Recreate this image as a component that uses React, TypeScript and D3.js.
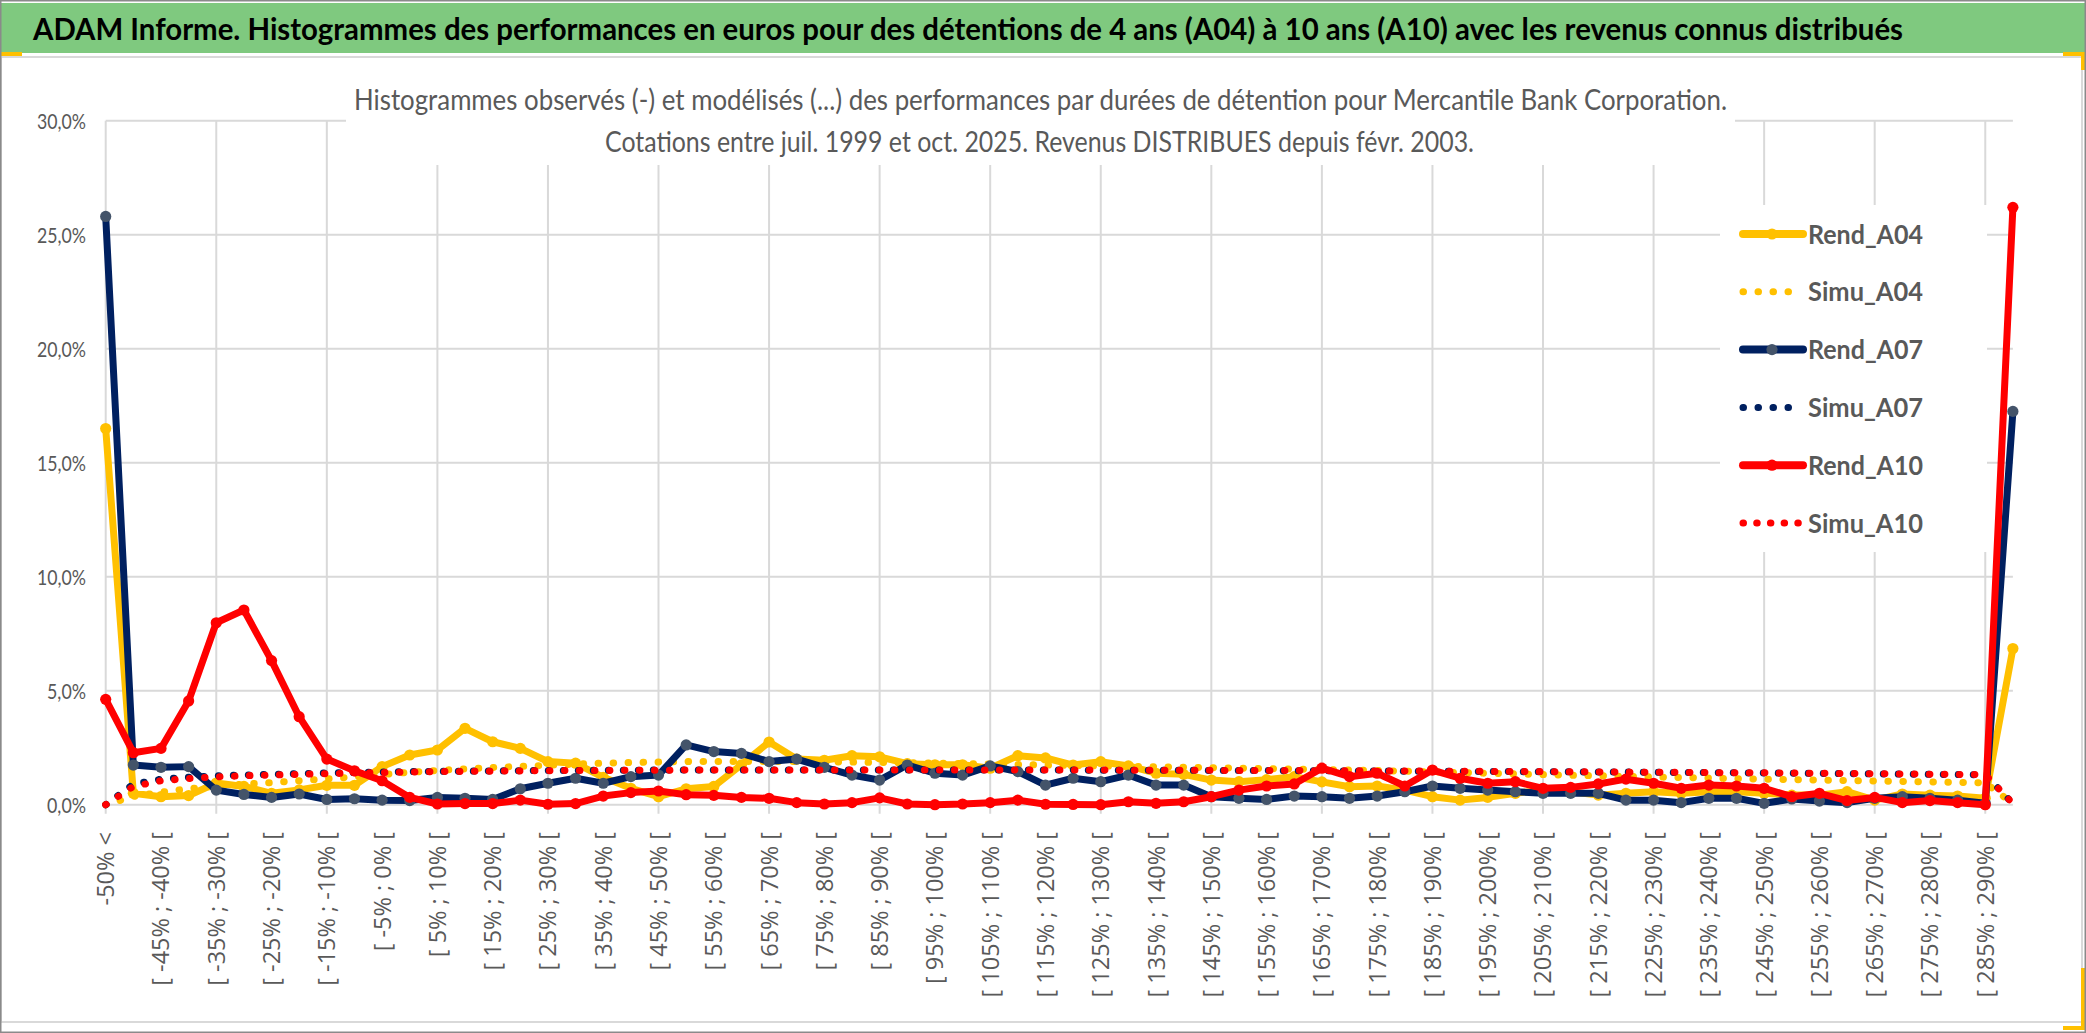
import React from 'react';
import * as d3 from 'd3';

// bins: "-50% <", [-50% ; -45% [ ... [285% ; 290% [, "> 290%"
const categories: string[] = [
  '-50% <',
  ...d3.range(1, 69).map((i) => {
    const lo = -50 + 5 * (i - 1);
    return `[ ${lo}% ; ${lo + 5}% [`;
  }),
  '> 290%',
];

const yTicks = [0, 5, 10, 15, 20, 25, 30];

const rendA04 = [
  16.5, 0.5, 0.35, 0.4, 0.95, 0.8, 0.5, 0.65, 0.85, 0.85,
  1.67, 2.18, 2.4, 3.35, 2.76, 2.47, 1.89, 1.82, 1.2, 0.72,
  0.35, 0.7, 0.8, 1.75, 2.75, 2.0, 1.95, 2.15, 2.1, 1.8,
  1.75, 1.75, 1.6, 2.15, 2.05, 1.74, 1.89, 1.7, 1.38, 1.33,
  1.08, 1.01, 1.1, 1.23, 1.0, 0.79, 0.82, 0.64, 0.35, 0.2,
  0.32, 0.5, 0.64, 0.57, 0.42, 0.5, 0.57, 0.5, 0.57, 0.57,
  0.5, 0.42, 0.42, 0.57, 0.2, 0.47, 0.42, 0.38, 0.28, 6.85,
];

const simuA04 = [
  0.0, 0.36, 0.55, 0.7, 0.82, 0.9, 0.97, 1.05, 1.13, 1.22,
  1.32, 1.42, 1.5, 1.57, 1.63, 1.68, 1.73, 1.78, 1.82, 1.85,
  1.87, 1.89, 1.9, 1.9, 1.9, 1.89, 1.88, 1.87, 1.85, 1.84,
  1.82, 1.8, 1.78, 1.76, 1.74, 1.72, 1.7, 1.68, 1.66, 1.64,
  1.62, 1.6, 1.58, 1.56, 1.54, 1.52, 1.5, 1.47, 1.44, 1.41,
  1.38, 1.35, 1.32, 1.29, 1.27, 1.24, 1.22, 1.19, 1.17, 1.14,
  1.12, 1.1, 1.08, 1.06, 1.04, 1.02, 1.0, 0.98, 0.96, 0.05,
];

const rendA07 = [
  25.8, 1.74, 1.64, 1.67, 0.64, 0.45, 0.32, 0.47, 0.23, 0.26,
  0.2, 0.18, 0.32, 0.28, 0.23, 0.7, 0.94, 1.16, 0.94, 1.23,
  1.3, 2.62, 2.33, 2.25, 1.89, 2.0, 1.64, 1.3, 1.08, 1.74,
  1.38, 1.3, 1.7, 1.45, 0.86, 1.16, 1.01, 1.3, 0.86, 0.86,
  0.35, 0.28, 0.23, 0.38, 0.35, 0.28, 0.38, 0.57, 0.82, 0.72,
  0.64, 0.57, 0.5, 0.5, 0.5, 0.2, 0.2, 0.09, 0.28, 0.28,
  0.06, 0.25, 0.16, 0.09, 0.28, 0.35, 0.28, 0.2, 0.06, 17.25,
];

const simuA07 = [
  0.0, 0.9, 1.12, 1.2, 1.27, 1.3, 1.33, 1.36, 1.39, 1.41,
  1.43, 1.45, 1.46, 1.47, 1.48, 1.49, 1.5, 1.5, 1.51, 1.51,
  1.52, 1.52, 1.52, 1.52, 1.52, 1.52, 1.52, 1.52, 1.52, 1.52,
  1.52, 1.52, 1.52, 1.52, 1.52, 1.52, 1.51, 1.51, 1.51, 1.51,
  1.5, 1.5, 1.5, 1.49, 1.49, 1.48, 1.48, 1.47, 1.47, 1.46,
  1.46, 1.45, 1.45, 1.44, 1.43, 1.43, 1.42, 1.41, 1.41, 1.4,
  1.39, 1.38, 1.37, 1.36, 1.35, 1.34, 1.33, 1.32, 1.31, 0.05,
];

const simuA10 = [
  0.0, 0.8, 1.05, 1.15, 1.22, 1.27, 1.3, 1.33, 1.36, 1.39,
  1.41, 1.43, 1.45, 1.46, 1.47, 1.48, 1.49, 1.5, 1.5, 1.51,
  1.51, 1.52, 1.52, 1.52, 1.52, 1.52, 1.52, 1.52, 1.52, 1.52,
  1.52, 1.52, 1.52, 1.52, 1.52, 1.52, 1.52, 1.51, 1.51, 1.51,
  1.51, 1.5, 1.5, 1.5, 1.49, 1.49, 1.48, 1.48, 1.47, 1.47,
  1.46, 1.46, 1.45, 1.44, 1.44, 1.43, 1.42, 1.42, 1.41, 1.4,
  1.4, 1.39, 1.38, 1.37, 1.36, 1.35, 1.34, 1.33, 1.32, 0.05,
];

const rendA10 = [
  4.62, 2.28, 2.47, 4.55, 7.98, 8.54, 6.32, 3.86, 2.0, 1.49,
  1.05, 0.32, 0.03, 0.05, 0.05, 0.2, 0.02, 0.05, 0.38, 0.53,
  0.6, 0.44, 0.41, 0.32, 0.28, 0.09, 0.03, 0.09, 0.3, 0.03,
  0.0, 0.03, 0.09, 0.2, 0.02, 0.01, 0.0, 0.13, 0.06, 0.13,
  0.35, 0.64, 0.82, 0.91, 1.6, 1.23, 1.38, 0.82, 1.52, 1.16,
  0.94, 1.01, 0.72, 0.76, 0.91, 1.12, 0.94, 0.72, 0.86, 0.82,
  0.72, 0.35, 0.5, 0.18, 0.32, 0.09, 0.18, 0.09, 0.0, 26.2,
];

const YELLOW = '#FFC000';
const NAVY = '#002060';
const RED = '#FF0000';
const GRID = '#d9d9d9';
const TEXT = '#595959';

type Serie = { name: string; values: number[]; color: string; dotted: boolean; marker?: string };

const series: Serie[] = [
  { name: 'Rend_A04', values: rendA04, color: YELLOW, dotted: false, marker: YELLOW },
  { name: 'Simu_A04', values: simuA04, color: YELLOW, dotted: true },
  { name: 'Rend_A07', values: rendA07, color: NAVY, dotted: false, marker: '#44546A' },
  { name: 'Simu_A07', values: simuA07, color: NAVY, dotted: true },
  { name: 'Rend_A10', values: rendA10, color: RED, dotted: false, marker: RED },
  { name: 'Simu_A10', values: simuA10, color: RED, dotted: true },
];

const W = 2086;
const H = 1033;
const LW = 7;
const DOTS = '0.5 14.5';
const MR = 5.6;

const fmt = (v: number) => v.toFixed(1).replace('.', ',') + '%';

export default function App() {
  const x = d3.scalePoint<string>().domain(categories).range([105.7, 2012.9]);
  const y = d3.scaleLinear().domain([0, 30]).range([804.7, 120.7]);
  const line = d3
    .line<number>()
    .x((_, i) => x(categories[i])!)
    .y((d) => y(d));

  const gridCats = categories.filter((_, i) => i % 4 === 0);
  const labelCats = categories.filter((_, i) => i % 2 === 0);

  return (
    <svg
      width={W}
      height={H}
      viewBox={`0 0 ${W} ${H}`}
      style={{ position: 'absolute', left: 0, top: 0, display: 'block', background: '#fff' }}
    >
      <rect x={0} y={0} width={W} height={H} fill="#fff" />
      {/* chart area frame */}
      <rect x={1} y={57} width={2081} height={965} fill="#fff" stroke={GRID} strokeWidth={2} />

      {/* gridlines */}
      {yTicks.map((t) => (
        <line key={'h' + t} x1={105.7} x2={2012.9} y1={y(t)} y2={y(t)} stroke={GRID} strokeWidth={2} />
      ))}
      {gridCats.map((c) => (
        <line key={'v' + c} x1={x(c)} x2={x(c)} y1={y(30)} y2={y(0) + 9} stroke={GRID} strokeWidth={2} />
      ))}

      {/* boxes of subtitle and legend hide the grid */}
      <rect x={346} y={68} width={1389} height={97} fill="#fff" />
      <rect x={1720} y={205} width={267} height={347} fill="#fff" />

      {/* y axis labels */}
      {yTicks.map((t) => (
        <text
          key={'yl' + t}
          x={86}
          y={y(t) + 8}
          textAnchor="end"
          fontFamily="Lato, sans-serif"
          fontSize={21}
          fill={TEXT}
          textLength={t >= 10 ? 49 : 39}
          lengthAdjust="spacingAndGlyphs"
        >
          {fmt(t)}
        </text>
      ))}

      {/* x axis labels */}
      {labelCats.map((c) => (
        <text
          key={'xl' + c}
          transform={`translate(${x(c)},832) rotate(-90)`}
          textAnchor="end"
          dy="0.36em"
          fontFamily="'Open Sans', sans-serif"
          fontSize={23.5}
          fill={TEXT}
        >
          {c}
        </text>
      ))}

      {/* series */}
      {series.map((s) => (
        <g key={s.name}>
          <path
            d={line(s.values)!}
            fill="none"
            stroke={s.color}
            strokeWidth={LW}
            strokeLinejoin="round"
            strokeLinecap="round"
            strokeDasharray={s.dotted ? DOTS : undefined}
          />
          {s.marker &&
            s.values.map((v, i) => (
              <circle key={i} cx={x(categories[i])} cy={y(v)} r={MR} fill={s.marker} />
            ))}
        </g>
      ))}

      {/* legend */}
      {series.map((s, k) => {
        const cy = 234 + k * 57.8;
        return (
          <g key={'lg' + s.name}>
            <line
              x1={1743}
              x2={s.dotted ? (s.name === 'Simu_A10' ? 1801 : 1790) : 1803}
              y1={cy}
              y2={cy}
              stroke={s.color}
              strokeWidth={s.dotted ? LW : 8}
              strokeLinecap="round"
              strokeDasharray={s.dotted ? (s.name === 'Simu_A10' ? '0.5 13.2' : DOTS) : undefined}
            />
            {s.marker && <circle cx={1772} cy={cy} r={MR} fill={s.marker} />}
            <text
              x={1808}
              y={cy + 9.5}
              fontFamily="Lato, sans-serif"
              fontWeight="bold"
              fontSize={26}
              fill={TEXT}
              textLength={115}
              lengthAdjust="spacingAndGlyphs"
            >
              {s.name}
            </text>
          </g>
        );
      })}

      {/* subtitle */}
      <text x={354} y={110} fontFamily="Lato, sans-serif" fontSize={29} fill={TEXT} textLength={1373} lengthAdjust="spacingAndGlyphs">
        Histogrammes observés (-) et modélisés (...) des performances par durées de détention pour Mercantile Bank Corporation.
      </text>
      <text x={605} y={152} fontFamily="Lato, sans-serif" fontSize={29} fill={TEXT} textLength={869} lengthAdjust="spacingAndGlyphs">
        Cotations entre juil. 1999 et oct. 2025. Revenus DISTRIBUES depuis févr. 2003.
      </text>

      {/* title bar */}
      <rect x={0} y={3} width={W} height={50} fill="#7fc97f" />
      <text x={33} y={40} fontFamily="Lato, sans-serif" fontWeight="bold" fontSize={30.5} fill="#000" textLength={1870} lengthAdjust="spacingAndGlyphs">
        ADAM Informe. Histogrammes des performances en euros pour des détentions de 4 ans (A04) à 10 ans (A10) avec les revenus connus distribués
      </text>

      {/* selection handles */}
      <rect x={0} y={52} width={22} height={4} fill={YELLOW} />
      <rect x={2063} y={52} width={23} height={4} fill={YELLOW} />
      <rect x={2081} y={52} width={5} height={18} fill={YELLOW} />
      <rect x={2081} y={968} width={4} height={62} fill={YELLOW} />
      <rect x={2063} y={1026} width={22} height={4} fill={YELLOW} />

      {/* outer border */}
      <rect x={0.75} y={0.75} width={W - 1.5} height={H - 1.5} fill="none" stroke="#8a8a8a" strokeWidth={1.5} />
    </svg>
  );
}
